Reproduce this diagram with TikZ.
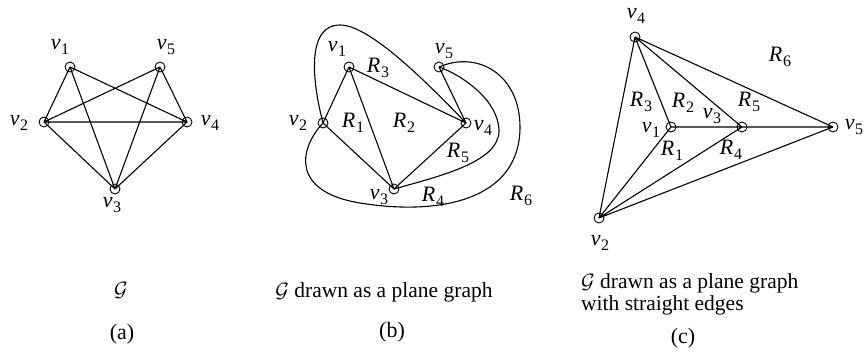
\documentclass[tikz,border=0pt]{standalone}
\usepackage{fontspec}
\setmainfont{Liberation Serif}
\newcommand\vlab[2]{\textit{#1}\kern0.6pt\raisebox{-0.45ex}{\fontsize{16}{16}\selectfont #2}}
\begin{document}
\begin{tikzpicture}[x=1pt,y=-1pt,
  vert/.style={circle,draw,minimum size=10pt,inner sep=0pt,line width=0.9pt},
  lab/.style={inner sep=0pt,font=\fontsize{22}{22}\selectfont},
  captext/.style={inner sep=0pt,font=\fontsize{21.5}{22}\selectfont,align=left},
  subcap/.style={inner sep=0pt,font=\fontsize{22}{22}\selectfont},
  edge/.style={line width=1.1pt}]
\useasboundingbox (0,0) rectangle (865,358);
% ---------- (a)
\coordinate (a1) at (70,67);
\coordinate (a5) at (160,67);
\coordinate (a2) at (44,122);
\coordinate (a4) at (187,122);
\coordinate (a3) at (115,189);
\draw[edge] (a1)--(a2) (a1)--(a3) (a1)--(a4) (a5)--(a2) (a5)--(a3) (a5)--(a4)
  (a2)--(a4) (a2)--(a3) (a4)--(a3);
\foreach \p in {a1,a2,a3,a4,a5} \node[vert] (n\p) at (\p) {};
\node[lab] (la1) at (60,47) {\vlab{v}{1}};
\node[lab] (la5) at (166,47) {\vlab{v}{5}};
\node[lab] (la2) at (19,123) {\vlab{v}{2}};
\node[lab] (la4) at (210,123) {\vlab{v}{4}};
\node[lab] (la3) at (112,205) {\vlab{v}{3}};
% ---------- (b)
\coordinate (b1) at (349,67);
\coordinate (b5) at (439,67);
\coordinate (b2) at (323,123);
\coordinate (b4) at (466,123);
\coordinate (b3) at (394,189);
\draw[edge] (b1)--(b2) (b1)--(b3) (b1)--(b4) (b2)--(b3) (b3)--(b4) (b5)--(b4);
\draw[edge] (b2) .. controls (313,85) and (305,25) .. (340,25)
  .. controls (368,25) and (420,75) .. (b4);
\draw[edge] (b2) .. controls (298,150) and (292,192) .. (360,203)
  .. controls (440,216) and (520,200) .. (520,127)
  .. controls (520,75) and (478,50) .. (b5);
\draw[edge] (b3) .. controls (440,176) and (500,162) .. (499,130)
  .. controls (498,100) and (462,75) .. (b5);
\foreach \p in {b1,b2,b3,b4,b5} \node[vert] (n\p) at (\p) {};
\node[lab] (lb1) at (337,49) {\vlab{v}{1}};
\node[lab] (lb5) at (444,51) {\vlab{v}{5}};
\node[lab] (lb2) at (298,123) {\vlab{v}{2}};
\node[lab] (lb4) at (483,128) {\vlab{v}{4}};
\node[lab] (lb3) at (379,197) {\vlab{v}{3}};
\node[lab] (rb3) at (378,68) {\vlab{R}{3}};
\node[lab] (rb1) at (353,123) {\vlab{R}{1}};
\node[lab] (rb2) at (404,123) {\vlab{R}{2}};
\node[lab] (rb5) at (458,153) {\vlab{R}{5}};
\node[lab] (rb4) at (433,197) {\vlab{R}{4}};
\node[lab] (rb6) at (521,196) {\vlab{R}{6}};
% ---------- (c)
\coordinate (c4) at (635,37);
\coordinate (c1) at (671,127);
\coordinate (c3) at (742,127);
\coordinate (c5) at (833,127);
\coordinate (c2) at (599,218);
\draw[edge] (c4)--(c2) (c4)--(c1) (c4)--(c3) (c4)--(c5) (c1)--(c3) (c3)--(c5)
  (c2)--(c1) (c2)--(c3) (c2)--(c5);
\foreach \p in {c1,c2,c3,c4,c5} \node[vert] (n\p) at (\p) {};
\node[lab] (lc4) at (636,16) {\vlab{v}{4}};
\node[lab] (lc1) at (651,130) {\vlab{v}{1}};
\node[lab] (lc3) at (712,116) {\vlab{v}{3}};
\node[lab] (lc5) at (854,127) {\vlab{v}{5}};
\node[lab] (lc2) at (600,243) {\vlab{v}{2}};
\node[lab] (rc6) at (780,57) {\vlab{R}{6}};
\node[lab] (rc3) at (641,102) {\vlab{R}{3}};
\node[lab] (rc2) at (683,103) {\vlab{R}{2}};
\node[lab] (rc5) at (749,102) {\vlab{R}{5}};
\node[lab] (rc1) at (672,151) {\vlab{R}{1}};
\node[lab] (rc4) at (731,150) {\vlab{R}{4}};
% ---------- captions
\node[subcap] (ga) at (121,290) {$\mathcal{G}$};
\node[subcap] (sa) at (122,334) {(a)};
\node[captext] (gb) at (384,292) {$\mathcal{G}$ drawn as a plane graph};
\node[subcap] (sb) at (392,332) {(b)};
\node[captext,anchor=west] (gc) at (581,294) {$\mathcal{G}$ drawn as a plane graph\\with straight edges};
\node[subcap] (sc) at (683,338) {(c)};
\end{tikzpicture}
\end{document}
